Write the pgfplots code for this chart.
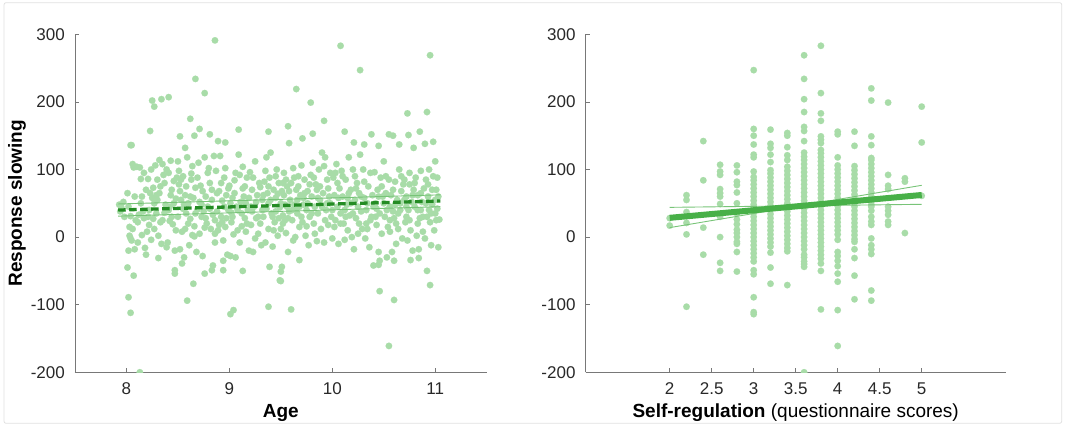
\documentclass[border=0pt]{standalone}
\usepackage{fontspec}
\setmainfont{Liberation Sans}
\usepackage{pgfplots}
\pgfplotsset{compat=1.18}
\definecolor{dot}{RGB}{168,220,168}
\definecolor{fitdark}{RGB}{36,140,36}
\definecolor{fitmid}{RGB}{72,176,72}
\definecolor{ci}{RGB}{120,196,120}
\definecolor{axgray}{RGB}{120,120,120}
\definecolor{txt}{RGB}{40,40,40}
\pgfplotsset{
  myax/.style={
    scale only axis, height=338pt,
    axis x line=bottom, axis y line=left,
    axis line style={-, axgray, line width=0.7pt},
    tick style={axgray, line width=0.7pt},
    tick align=inside, major tick length=4pt,
    ymin=-200, ymax=300,
    ytick={-200,-100,0,100,200,300},
    yticklabels={-200,-100,0,100,200,300},
    tick label style={font=\fontsize{17}{20}\selectfont, text=txt},
    yticklabel style={inner sep=0pt, anchor=east, xshift=-10pt},
    xticklabel style={inner sep=0pt, anchor=north, yshift=-10.5pt},
    /pgf/number format/assume math mode=true,
    label style={font=\fontsize{19}{23}\selectfont, text=black},
    xlabel style={at={(axis description cs:0.5,-0.1204)}, anchor=center},
    clip marker paths=true,
  },
  dots/.style={only marks, color=dot, mark=*, mark size=3.3pt, mark options={fill=dot, draw=dot, line width=0.1pt}},
}
\begin{document}
\begin{tikzpicture}
\useasboundingbox (0pt,0pt) rectangle (1069pt,425pt);
\draw[black!12, line width=0.8pt, rounded corners=2pt] (4pt,1.7pt) rectangle (1061.7pt,422.3pt);

\begin{axis}[myax, at={(75pt,52.7pt)}, anchor=south west, width=411.7pt,
  xmin=7.5, xmax=11.5, xtick={8,9,10,11}, xticklabels={8,9,10,11},
  xlabel={\bfseries Age}, ylabel={\bfseries Response slowing},
  ylabel style={at={(axis description cs:-0.1409,0.5)}, anchor=center}]
\addplot[dots] coordinates {
(7.93,48)(7.95,44)(7.98,30)
(8.01,65)(8.02,-20)(8.03,15)(8.03,2)(8.04,-2)(8.05,-5)(8.04,31)(8.06,108)(8.07,103)(8.08,-18)(8.09,25)(8.1,104)(8.05,136)
(8.11,22)(8.13,103)(8.14,86)(8.15,3)(8.16,38)(8.12,33)(8.17,28)(8.18,-16)(8.19,-26)(8.15,60)
(8.2,8)(8.21,86)(8.22,40)(8.23,65)(8.24,-4)(8.25,58)(8.26,27)(8.27,50)(8.28,106)(8.22,18)(8.29,62)(8.26,73)
(8.3,85)(8.31,2)(8.32,114)(8.33,75)(8.34,-10)(8.35,108)(8.36,92)(8.37,36)(8.38,48)(8.33,22)(8.39,100)(8.3,55)
(8.4,-8)(8.41,95)(8.42,24)(8.43,113)(8.44,70)(8.45,19)(8.46,83)(8.47,-20)(8.48,57)(8.49,88)(8.44,30)(8.42,45)
(8.5,112)(8.51,78)(8.52,-18)(8.53,55)(8.54,8)(8.55,90)(8.56,-30)(8.57,62)(8.58,35)(8.59,118)(8.52,68)(8.55,42)(8.57,12)(8.51,98)
(8.6,50)(8.61,-12)(8.62,27)(8.63,94)(8.64,3)(8.65,58)(8.66,16)(8.67,73)(8.68,-22)(8.69,41)(8.63,85)(8.66,1)
(8.7,110)(8.71,5)(8.72,76)(8.73,30)(8.74,-28)(8.75,38)(8.76,118)(8.77,60)(8.78,20)(8.79,95)(8.73,48)(8.76,14)
(8.8,102)(8.81,42)(8.82,12)(8.83,70)(8.84,-42)(8.85,120)(8.86,25)(8.87,98)(8.88,65)(8.89,10)(8.84,33)(8.86,-8)
(8.9,68)(8.91,120)(8.92,30)(8.93,54)(8.94,-5)(8.95,88)(8.96,15)(8.97,62)(8.98,-26)(8.99,40)(8.93,22)(8.96,102)
(9.0,76)(9.01,-28)(9.02,22)(9.03,58)(9.04,4)(9.05,84)(9.06,-30)(9.07,45)(9.08,10)(9.09,122)(9.02,36)(9.06,95)
(9.1,-8)(9.11,52)(9.12,16)(9.13,104)(9.14,60)(9.15,28)(9.16,8)(9.17,88)(9.18,40)(9.19,-20)(9.13,72)(9.16,50)
(9.2,96)(9.21,18)(9.22,70)(9.23,-22)(9.24,45)(9.25,112)(9.26,28)(9.27,62)(9.28,5)(9.29,80)(9.22,38)(9.25,-2)
(9.3,74)(9.31,-12)(9.32,55)(9.33,30)(9.34,82)(9.35,-8)(9.36,118)(9.37,65)(9.38,12)(9.39,88)(9.32,40)(9.35,98)(9.38,50)
(9.4,125)(9.41,35)(9.42,-14)(9.43,70)(9.44,22)(9.45,58)(9.46,100)(9.47,2)(9.48,80)(9.49,44)(9.42,30)(9.45,90)(9.47,64)
(9.5,12)(9.51,68)(9.52,32)(9.53,95)(9.54,48)(9.55,6)(9.56,75)(9.57,-22)(9.58,38)(9.59,55)(9.52,20)(9.55,85)(9.57,28)(9.53,62)
(9.6,80)(9.61,25)(9.62,102)(9.63,48)(9.64,0)(9.65,70)(9.66,35)(9.67,90)(9.68,15)(9.69,62)(9.62,-5)(9.65,42)(9.67,75)
(9.7,106)(9.71,22)(9.72,58)(9.73,85)(9.74,2)(9.75,40)(9.76,68)(9.77,-12)(9.78,30)(9.79,92)(9.72,48)(9.75,16)
(9.8,60)(9.81,110)(9.82,20)(9.83,45)(9.84,78)(9.85,-6)(9.86,35)(9.87,100)(9.88,55)(9.89,12)(9.82,88)(9.85,70)
(9.9,125)(9.91,65)(9.92,-8)(9.93,118)(9.94,40)(9.95,85)(9.96,18)(9.97,60)(9.98,95)(9.99,30)(9.92,105)(9.95,50)
(10.0,-2)(10.01,88)(10.02,62)(10.03,25)(10.04,108)(10.05,45)(10.06,-10)(10.07,72)(10.08,35)(10.09,98)(10.02,15)(10.05,80)
(10.1,60)(10.11,20)(10.12,-4)(10.13,85)(10.14,48)(10.15,10)(10.16,118)(10.17,32)(10.18,70)(10.19,0)(10.12,40)(10.15,58)
(10.2,100)(10.21,-18)(10.22,55)(10.23,28)(10.24,80)(10.25,5)(10.26,65)(10.27,122)(10.28,38)(10.29,12)(10.22,90)(10.25,45)
(10.3,100)(10.31,58)(10.32,-2)(10.33,40)(10.34,12)(10.35,75)(10.36,-15)(10.37,95)(10.38,30)(10.39,62)(10.33,20)
(10.4,-42)(10.41,96)(10.42,50)(10.43,18)(10.44,70)(10.45,-22)(10.46,35)(10.47,88)(10.48,5)(10.49,60)(10.43,42)
(10.5,112)(10.51,30)(10.52,65)(10.53,-30)(10.54,15)(10.55,85)(10.56,45)(10.57,62)(10.58,-22)(10.59,38)(10.52,90)(10.56,8)
(10.6,28)(10.61,82)(10.62,-10)(10.63,55)(10.64,12)(10.65,100)(10.66,40)(10.67,68)(10.68,-2)(10.69,78)(10.62,20)(10.66,50)
(10.7,85)(10.71,22)(10.72,60)(10.73,-5)(10.74,40)(10.75,78)(10.76,10)(10.77,52)(10.78,-20)(10.79,70)(10.72,30)(10.75,95)
(10.8,45)(10.81,88)(10.82,2)(10.83,62)(10.84,-18)(10.85,28)(10.86,98)(10.87,52)(10.88,8)(10.89,72)(10.83,20)(10.86,40)
(10.9,-2)(10.91,85)(10.92,30)(10.93,60)(10.94,100)(10.95,22)(10.96,-12)(10.97,48)(10.98,90)(10.99,10)(10.93,78)(10.96,35)
(11.0,112)(11.01,25)(11.02,88)(11.03,-15)(11.04,26)(11.0,55)(11.02,42)(11.01,70)
(8.86,291)(10.08,283)(10.95,269)(10.27,247)(8.67,234)(9.65,219)(8.76,213)(8.41,207)(8.34,204)(8.25,202)(8.27,193)
(9.79,199)(10.92,185)(10.73,183)(8.62,175)(9.92,172)(9.57,164)(8.71,160)(9.09,159)(8.23,157)(10.12,156)(10.85,156)
(9.81,153)(9.38,156)(10.38,152)(10.55,152)(10.59,150)(10.74,151)(8.52,149)(8.66,150)(8.81,152)(9.71,146)(10.21,140)
(10.98,141)(8.89,142)(8.96,140)(10.90,138)(10.31,137)(10.45,135)(10.65,137)(8.04,136)(9.58,139)(8.57,132)(10.79,132)
(10.55,-161)(8.13,-200)(9.01,-114)(9.04,-108)(8.04,-112)(8.02,-89)(9.38,-103)(9.60,-107)(8.59,-94)(10.60,-93)
(10.46,-80)(8.65,-69)(10.95,-71)(9.50,-65)(9.49,-64)(10.92,-50)(9.13,-50)(8.76,-54)(8.01,-45)(8.07,-57)(8.47,-54)
(8.47,-49)(8.83,-49)(8.94,-49)(9.50,-51)(9.51,-44)(9.39,-44)(10.45,-41)(8.54,-39)(8.31,-31)(8.94,-35)(9.68,-34)
(10.60,-35)(10.46,-35)(10.76,-34)(10.84,-31)
(7.94,38)(7.97,52)(8.02,45)(8.06,12)(8.08,60)(8.11,-8)(8.14,50)(8.17,95)(8.19,70)(8.21,30)(8.24,100)(8.27,12)
(8.29,35)(8.32,65)(8.35,25)(8.37,80)(8.39,-15)(8.41,40)(8.43,62)(8.46,50)(8.48,10)(8.5,30)(8.53,85)(8.56,48)
(8.58,75)(8.6,20)(8.62,60)(8.64,105)(8.67,35)(8.69,88)(8.71,52)(8.74,68)(8.77,28)(8.79,45)(8.81,80)(8.83,55)
(8.86,5)(8.88,38)(8.9,18)(8.92,80)(8.95,45)(8.97,28)(8.99,72)(9.01,50)(9.03,30)(9.05,65)(9.08,40)(9.1,92)
(9.12,35)(9.15,75)(9.17,20)(9.19,58)(9.21,45)(9.23,88)(9.26,52)(9.28,30)(9.3,20)(9.33,62)(9.36,42)(9.38,75)
(9.4,55)(9.43,10)(9.45,38)(9.48,28)(9.5,50)(9.52,80)(9.54,25)(9.56,45)(9.58,68)(9.61,40)(9.63,88)(9.66,55)
(9.68,45)(9.7,30)(9.73,65)(9.76,50)(9.78,78)(9.8,35)(9.83,5)(9.86,58)(9.88,75)(9.9,45)(9.93,25)(9.96,72)
(9.98,50)(10.0,40)(10.03,95)(10.06,58)(10.08,20)(10.1,90)(10.13,30)(10.16,65)(10.18,50)(10.2,35)(10.23,72)
(10.26,20)(10.28,60)(10.31,82)(10.34,50)(10.37,25)(10.4,45)(10.42,30)(10.45,60)(10.48,75)(10.5,50)(10.53,40)
(10.56,25)(10.59,70)(10.61,48)(10.64,35)(10.67,90)(10.7,55)(10.72,45)(10.75,25)(10.78,62)(10.8,80)(10.83,40)
(10.86,65)(10.88,30)(10.91,50)(10.94,40)(10.97,70)(11.0,35)(11.03,60)
};
\addplot[ci, line width=0.9pt] coordinates {(7.92,49)(11.05,62.5)};
\addplot[ci, line width=0.9pt] coordinates {(7.92,31)(11.05,45)};
\addplot[fitdark, line width=3.3pt, dash pattern=on 7.5pt off 3.5pt] coordinates {(7.92,40)(11.05,53.4)};
\end{axis}

\begin{axis}[myax, at={(585.7pt,52.7pt)}, anchor=south west, width=420pt,
  xmin=1, xmax=6, xtick={2,2.5,3,3.5,4,4.5,5}, xticklabels={2,2.5,3,3.5,4,4.5,5},
  xlabel={\textbf{Self-regulation} (questionnaire scores)}]
\addplot[dots] coordinates {
(2,28)(2,17)
(2.2,62)(2.2,55)(2.2,37)(2.2,31)(2.2,21)(2.2,4)(2.2,-103)
(2.4,142)(2.4,84)(2.4,14)(2.4,-26)
(2.6,107)(2.6,97)(2.6,92)(2.6,71)(2.6,65)(2.6,60)(2.6,49)(2.6,30)(2.6,0)(2.6,-38)(2.6,-50)
(2.8,106)(2.8,96)(2.8,82)(2.8,77)(2.8,66)(2.8,50)(2.8,35)(2.8,26)(2.8,19)(2.8,11)(2.8,6)(2.8,0)(2.8,-7)(2.8,-10)(2.8,-22)(2.8,-51)
(3,247)(3,160)(3,150)(3,137)(3,122)(3,118)(3,97)(3,89)(3,84)(3,78)(3,72)(3,66)(3,60)(3,54)(3,48)(3,42)(3,36)(3,30)(3,24)(3,18)(3,12)(3,6)(3,0)(3,-6)(3,-12)(3,-18)(3,-24)(3,-30)(3,-36)(3,-49)(3,-55)(3,-89)(3,-111)(3,-114)
(3.2,159)(3.2,138)(3.2,132)(3.2,122)(3.2,111)(3.2,99)(3.2,94)(3.2,88)(3.2,82)(3.2,76)(3.2,70)(3.2,64)(3.2,58)(3.2,52)(3.2,46)(3.2,40)(3.2,34)(3.2,28)(3.2,22)(3.2,16)(3.2,10)(3.2,4)(3.2,-2)(3.2,-8)(3.2,-14)(3.2,-23)(3.2,-45)(3.2,-69)
(3.4,154)(3.4,150)(3.4,133)(3.4,121)(3.4,114)(3.4,104)(3.4,98)(3.4,92)(3.4,86)(3.4,80)(3.4,74)(3.4,68)(3.4,62)(3.4,56)(3.4,50)(3.4,44)(3.4,38)(3.4,32)(3.4,26)(3.4,20)(3.4,14)(3.4,8)(3.4,2)(3.4,-4)(3.4,-10)(3.4,-16)(3.4,-21)(3.4,-71)
(3.6,269)(3.6,234)(3.6,204)(3.6,185)(3.6,163)(3.6,157)(3.6,142)(3.6,125)(3.6,119)(3.6,114)(3.6,108)(3.6,102)(3.6,96)(3.6,90)(3.6,84)(3.6,78)(3.6,72)(3.6,66)(3.6,60)(3.6,54)(3.6,48)(3.6,42)(3.6,36)(3.6,30)(3.6,24)(3.6,18)(3.6,12)(3.6,6)(3.6,0)(3.6,-6)(3.6,-12)(3.6,-18)(3.6,-26)(3.6,-30)(3.6,-36)(3.6,-40)(3.6,-44)(3.6,-200)
(3.8,283)(3.8,213)(3.8,183)(3.8,172)(3.8,149)(3.8,144)(3.8,139)(3.8,129)(3.8,124)(3.8,118)(3.8,112)(3.8,106)(3.8,100)(3.8,94)(3.8,88)(3.8,82)(3.8,76)(3.8,70)(3.8,64)(3.8,58)(3.8,52)(3.8,46)(3.8,40)(3.8,34)(3.8,28)(3.8,22)(3.8,16)(3.8,10)(3.8,4)(3.8,-2)(3.8,-8)(3.8,-14)(3.8,-20)(3.8,-26)(3.8,-32)(3.8,-39)(3.8,-50)(3.8,-107)
(4,156)(4,152)(4,118)(4,106)(4,100)(4,94)(4,88)(4,82)(4,76)(4,70)(4,64)(4,58)(4,52)(4,46)(4,40)(4,34)(4,28)(4,22)(4,16)(4,10)(4,4)(4,-4)(4,-22)(4,-28)(4,-35)(4,-43)(4,-54)(4,-66)(4,-108)(4,-161)
(4.2,156)(4.2,135)(4.2,105)(4.2,99)(4.2,93)(4.2,87)(4.2,81)(4.2,75)(4.2,69)(4.2,63)(4.2,57)(4.2,51)(4.2,45)(4.2,39)(4.2,33)(4.2,27)(4.2,21)(4.2,15)(4.2,9)(4.2,3)(4.2,-3)(4.2,-7)(4.2,-18)(4.2,-31)(4.2,-57)(4.2,-92)
(4.4,220)(4.4,202)(4.4,149)(4.4,136)(4.4,117)(4.4,114)(4.4,108)(4.4,102)(4.4,96)(4.4,90)(4.4,84)(4.4,78)(4.4,72)(4.4,66)(4.4,60)(4.4,54)(4.4,48)(4.4,45)(4.4,39)(4.4,30)(4.4,23)(4.4,18)(4.4,-2)(4.4,-12)(4.4,-18)(4.4,-25)(4.4,-79)(4.4,-94)
(4.6,199)(4.6,92)(4.6,76)(4.6,71)(4.6,45)(4.6,39)(4.6,33)(4.6,23)(4.6,18)
(4.8,87)(4.8,82)(4.8,6)
(5,193)(5,140)(5,61)
};
\addplot[ci, line width=0.9pt] coordinates {(2,44)(5,48.5)};
\addplot[ci, line width=0.9pt] coordinates {(2,14)(5,76.6)};
\addplot[fitmid, line width=6pt] coordinates {(2,28.5)(5,62.3)};
\end{axis}
\end{tikzpicture}
\end{document}
